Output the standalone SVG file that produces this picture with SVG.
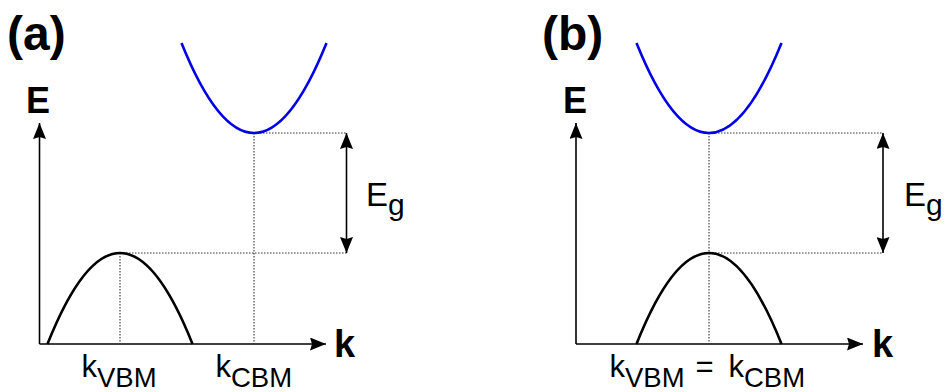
<svg xmlns="http://www.w3.org/2000/svg" width="945" height="392" viewBox="0 0 945 392">
<style>
.ax{stroke:#000;stroke-width:1.6;fill:none}
.vb{stroke:#000;stroke-width:2.6;fill:none}
.cb{stroke:#0000e6;stroke-width:2.6;fill:none}
.dot{stroke:#333;stroke-width:1.1;stroke-dasharray:1.5 1.5;fill:none}
.t{font-family:"Liberation Sans",Arial,sans-serif;fill:#000}
.b{font-weight:bold}
</style>
<defs>
<marker id="ah" viewBox="0 0 16 13" refX="16" refY="6.5" markerWidth="16" markerHeight="13" markerUnits="userSpaceOnUse" orient="auto-start-reverse">
<path d="M0,0 L16,6.5 L0,13 L2,6.5 Z" fill="#000"/>
</marker>
</defs>
<rect width="945" height="392" fill="#fff"/>
<g id="panel-a">
<text class="t b" x="7" y="50" font-size="48">(a)</text>
<g id="a-axes">
<path class="ax" d="M39.5,344 L39.5,123" marker-end="url(#ah)"/>
<path class="ax" d="M39.5,344 L326,344" marker-end="url(#ah)"/>
<text class="t b" x="26" y="113" font-size="36">E</text>
<text class="t b" x="334" y="357" font-size="38">k</text>
</g>
<g id="a-guides">
<path class="dot" d="M120,253 V344 M254,133 V344 M254,133 H346.5 M120,253 H346.5"/>
</g>
<g id="a-vb"><path class="vb" d="M47.5,344 Q120,162 192.5,344"/></g>
<g id="a-cb"><path class="cb" d="M181.5,43 Q254,223 326.5,43"/></g>
<g id="a-gap">
<path class="ax" d="M346.5,253 L346.5,133" marker-start="url(#ah)" marker-end="url(#ah)"/>
<text class="t" x="366" y="206" font-size="33">E<tspan font-size="30" dy="9">g</tspan></text>
</g>
<text class="t" x="81.5" y="377" font-size="31">k<tspan font-size="27.5" dy="10">VBM</tspan></text>
<text class="t" x="215.5" y="377" font-size="31">k<tspan font-size="27.5" dy="10">CBM</tspan></text>
</g>
<g id="panel-b">
<text class="t b" x="542" y="50" font-size="48">(b)</text>
<g id="b-axes">
<path class="ax" d="M576,344 L576,123" marker-end="url(#ah)"/>
<path class="ax" d="M576,344 L863,344" marker-end="url(#ah)"/>
<text class="t b" x="563" y="113" font-size="36">E</text>
<text class="t b" x="872" y="357" font-size="38">k</text>
</g>
<g id="b-guides">
<path class="dot" d="M709,133 V344 M709,133 H883 M709,253 H883"/>
</g>
<g id="b-vb"><path class="vb" d="M636.5,344 Q709,162 781.5,344"/></g>
<g id="b-cb"><path class="cb" d="M636.5,43 Q709,223 781.5,43"/></g>
<g id="b-gap">
<path class="ax" d="M883,253 L883,133" marker-start="url(#ah)" marker-end="url(#ah)"/>
<text class="t" x="904" y="206" font-size="33">E<tspan font-size="30" dy="9">g</tspan></text>
</g>
<text class="t" x="609.5" y="377" font-size="31">k<tspan font-size="27.5" dy="10">VBM</tspan><tspan font-size="31" x="695.5" dy="-10">=</tspan><tspan font-size="31" x="728.5">k</tspan><tspan font-size="27.5" dy="10">CBM</tspan></text>
</g>
</svg>
